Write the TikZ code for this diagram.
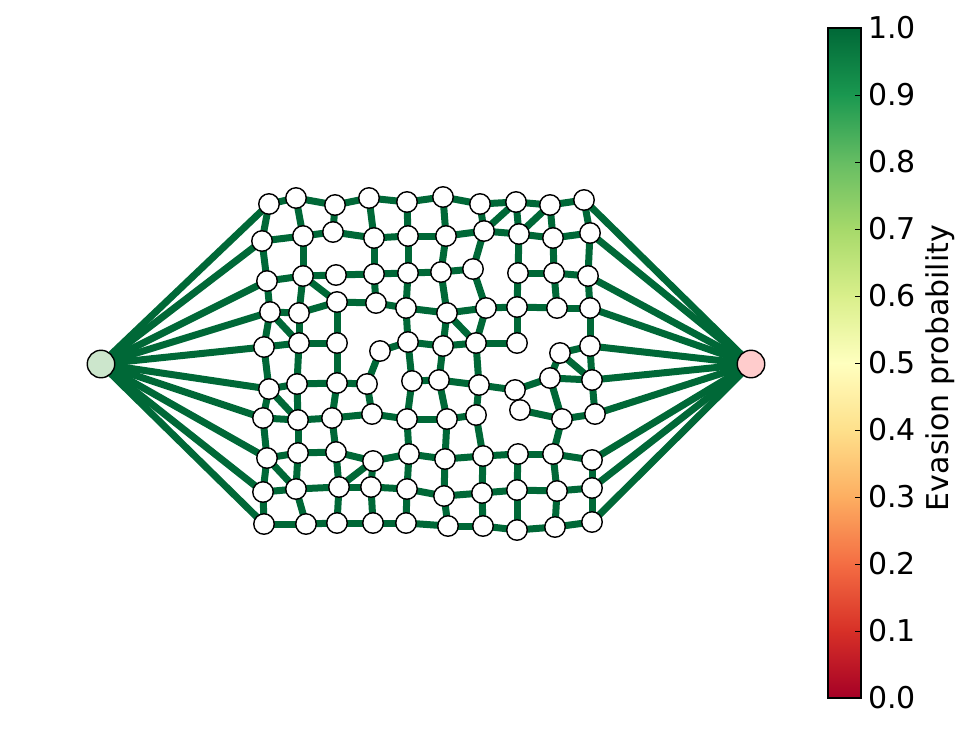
\documentclass[tikz,border=0pt]{standalone}
\usepackage{fontspec}
\setmainfont{DejaVu Sans}
\definecolor{egreen}{HTML}{006837}
\definecolor{srcfill}{RGB}{204,230,204}
\definecolor{tgtfill}{RGB}{255,204,204}
\definecolor{cm0}{HTML}{A50026}
\definecolor{cm1}{HTML}{D73027}
\definecolor{cm2}{HTML}{F46D43}
\definecolor{cm3}{HTML}{FDAE61}
\definecolor{cm4}{HTML}{FEE08B}
\definecolor{cm5}{HTML}{FFFFBF}
\definecolor{cm6}{HTML}{D9EF8B}
\definecolor{cm7}{HTML}{A6D96A}
\definecolor{cm8}{HTML}{66BD63}
\definecolor{cm9}{HTML}{1A9850}
\definecolor{cm10}{HTML}{006837}
\pgfdeclarelayer{bg}
\pgfsetlayers{bg,main}
\tikzset{
  vnode/.style={circle, draw=black, line width=1.4pt, fill=white, minimum size=20.5pt, inner sep=0pt},
  endnode/.style={circle, draw=black, line width=1.4pt, minimum size=27.5pt, inner sep=0pt},
  edgeline/.style={draw=egreen, line width=7pt},
  ticklab/.style={anchor=west, inner sep=0pt, font=\fontsize{30}{36}\selectfont},
}
\begin{document}
\begin{tikzpicture}[x=1pt,y=-1pt]
\useasboundingbox (0,0) rectangle (971,729);
% graph nodes
\foreach \n/\x/\y in {
a1/269/204, a2/296/198, a3/335/205, a4/369/198, a5/407/202, a6/443/197, a7/480/204, a8/516/202, a9/550/205, a10/584/200,
b1/262/241, b2/303/236, b3/333/232, b4/374/238, b5/408/236, b6/446/236, b7/484/231, b8/519/234, b9/553/238, b10/590/233,
c1/267/281, c2/303/276, c3/336/275, c4/374/274, c5/408/273, c6/441/272, c7/473/269, c8/518/273, c9/554/273, c10/588/276,
d1/270/312, d2/299/313, d3/337/302, d4/376/303, d5/406/308, d6/447/313, d7/486/308, d8/517/307, d9/557/308, d10/590/308,
e1/264/347, e2/299/343, e3/337/343, e4/380/351, e5/408/342, e6/443/346, e7/476/343, e8/517/343, e9/560/353, e10/590/346,
f1/269/389, f2/297/384, f3/337/383, f4/367/384, f5/412/381, f6/439/380, f7/479/385, f8/515/390, f9/550/378, f10/592/380,
g1/263/418, g2/298/420, g3/332/418, g4/372/414, g5/407/419, g6/447/419, g7/476/415, g8/520/410, g9/562/419, g10/595/414,
h1/267/458, h2/298/453, h3/336/452, h4/373/461, h5/409/454, h6/445/459, h7/483/456, h8/518/454, h9/553/454, h10/592/460,
i1/263/492, i2/296/489, i3/339/487, i4/371/487, i5/407/489, i6/444/496, i7/482/493, i8/517/490, i9/557/491, i10/592/488,
j1/264/524, j2/306/524, j3/337/523, j4/373/523, j5/406/523, j6/448/526, j7/483/526, j8/517/530, j9/555/527, j10/592/522}
  \node[vnode] (\n) at (\x,\y) {};
\node[endnode, fill=srcfill] (S) at (101,364) {};
\node[endnode, fill=tgtfill] (T) at (751,364) {};
% edges
\begin{pgfonlayer}{bg}
\foreach \r in {a,b,c,d,e,f,g,h,i,j} {
  \draw[edgeline] (S.center) -- (\r1.center);
  \draw[edgeline] (T.center) -- (\r10.center);
}
\foreach \p/\q in {
a1/a2,a2/a3,a3/a4,a4/a5,a5/a6,a6/a7,a7/a8,a8/a9,a9/a10,
b1/b2,b2/b3,b3/b4,b4/b5,b5/b6,b6/b7,b7/b8,b8/b9,b9/b10,
c1/c2,c2/c3,c3/c4,c4/c5,c5/c6,c6/c7,c8/c9,c9/c10,
d1/d2,d2/d3,d3/d4,d4/d5,d5/d6,d6/d7,d7/d8,d8/d9,d9/d10,
e1/e2,e2/e3,e4/e5,e5/e6,e6/e7,e7/e8,e9/e10,
f1/f2,f2/f3,f3/f4,f5/f6,f6/f7,f7/f8,f8/f9,f9/f10,
g1/g2,g2/g3,g3/g4,g4/g5,g5/g6,g6/g7,g8/g9,g9/g10,
h1/h2,h2/h3,h3/h4,h4/h5,h5/h6,h6/h7,h7/h8,h8/h9,h9/h10,
i1/i2,i2/i3,i3/i4,i4/i5,i5/i6,i6/i7,i7/i8,i8/i9,i9/i10,
j1/j2,j2/j3,j3/j4,j4/j5,j5/j6,j6/j7,j7/j8,j8/j9,j9/j10,
a1/b1,a2/b2,a3/b3,a4/b4,a5/b5,a6/b6,a7/b7,a8/b8,a9/b9,a10/b10,
b1/c1,b2/c2,b4/c4,b5/c5,b6/c6,b7/c7,b8/c8,b9/c9,b10/c10,
c1/d1,c2/d2,c4/d4,c5/d5,c6/d6,c7/d7,c8/d8,c9/d9,c10/d10,
d1/e1,d2/e2,d3/e3,d5/e5,d6/e6,d7/e7,d8/e8,d10/e10,
e1/f1,e2/f2,e3/f3,e4/f4,e5/f5,e6/f6,e7/f7,e9/f9,e10/f10,
f1/g1,f2/g2,f3/g3,f4/g4,f5/g5,f6/g6,f7/g7,f9/g9,f10/g10,
g1/h1,g2/h2,g3/h3,g5/h5,g6/h6,g7/h7,g9/h9,
h1/i1,h2/i2,h3/i3,h4/i4,h5/i5,h6/i6,h7/i7,h8/i8,h9/i9,h10/i10,
i1/j1,i2/j2,i3/j3,i4/j4,i5/j5,i6/j6,i7/j7,i8/j8,i9/j9,i10/j10,
b7/a8,b8/a9,c2/d3,d1/e2,d6/e7,e9/f10,f1/g2,h1/i2,h4/i3}
  \draw[edgeline] (\p.center) -- (\q.center);
\end{pgfonlayer}
% colorbar
\foreach \k in {0,...,9} {
  \pgfmathtruncatemacro{\kn}{\k+1}
  \shade[bottom color=cm\k, top color=cm\kn] (828,{698-67*\k+0.3}) rectangle (861,{698-67*\kn-0.3});
}
\draw[line width=1.3pt] (828,28) rectangle (861,698);
\foreach \k in {1,...,9}
  \draw[line width=0.8pt] (861,{698-67*\k}) -- ++(-6,0);
\foreach \k/\t in {0/0.0,1/0.1,2/0.2,3/0.3,4/0.4,5/0.5,6/0.6,7/0.7,8/0.8,9/0.9,10/1.0}
  \node[ticklab] (tl\k) at (868,{698-67*\k}) {\t};
\node[rotate=90, inner sep=0pt, font=\fontsize{30}{36}\selectfont] (cblabel) at (940,368) {Evasion probability};
\end{tikzpicture}
\end{document}
